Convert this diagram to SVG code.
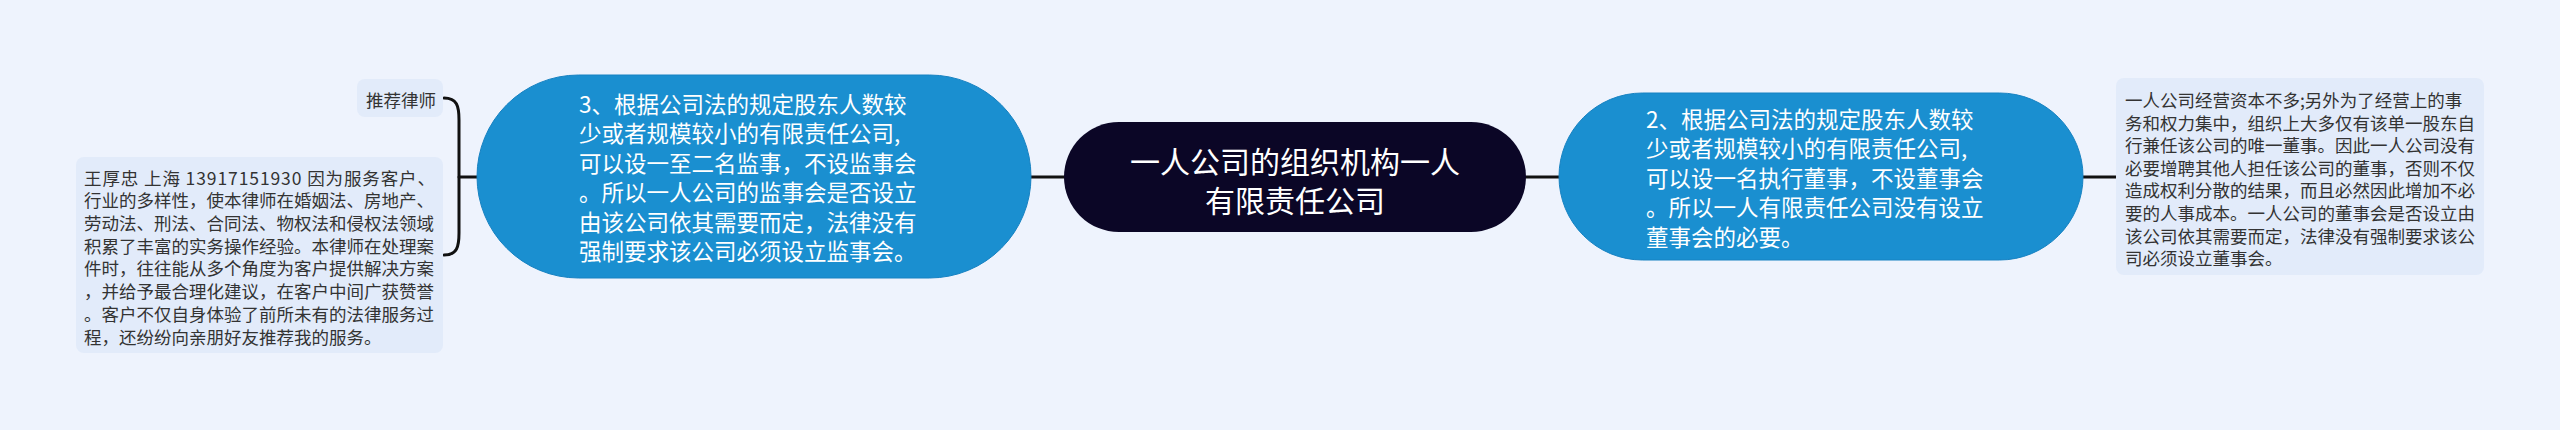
<svg xmlns="http://www.w3.org/2000/svg" width="2560" height="430" viewBox="0 0 2560 430">
<style>
.t{font-family:"Noto Sans CJK SC","Noto Sans",sans-serif;dominant-baseline:central}
.sm{font-size:17.5px;fill:#333333}
.md{font-size:22.5px;fill:#ffffff}
.lg{font-size:30px;fill:#ffffff}
.box{fill:#e2ebfa}
.blue{fill:#1a8fd0;stroke:#1782c2;stroke-width:1}
.conn{fill:none;stroke:#111111;stroke-width:3;stroke-linecap:round}
</style>
<rect x="0" y="0" width="2560" height="430" fill="#eef3fd"/>
<g id="connectors">
<path class="conn" d="M444,98 C457,98 459,106 459,120 L459,233 C459,247 457,255 444,255"/>
<path class="conn" d="M459,177 L477,177"/>
<path class="conn" d="M1031,177 L1064,177"/>
<path class="conn" d="M1526,177 L1559,177"/>
<path class="conn" d="M2083,177 L2116,177"/>
</g>
<g id="root">
<rect x="1064" y="122" width="462" height="110" rx="55" fill="#0b0626"/>
<text class="t lg" x="1295" y="160" text-anchor="middle">一人公司的组织机构一人</text>
<text class="t lg" x="1295" y="199" text-anchor="middle">有限责任公司</text>
</g>
<g id="node3">
<rect class="blue" x="477" y="75" width="554" height="203" rx="101.5"/>
<text class="t md" x="579" y="103">3、根据公司法的规定股东人数较</text>
<text class="t md" x="579" y="132.4">少或者规模较小的有限责任公司,</text>
<text class="t md" x="579" y="161.8">可以设一至二名监事，不设监事会</text>
<text class="t md" x="579" y="191.2">。所以一人公司的监事会是否设立</text>
<text class="t md" x="579" y="220.6">由该公司依其需要而定，法律没有</text>
<text class="t md" x="579" y="250">强制要求该公司必须设立监事会。</text>
</g>
<g id="node2">
<rect class="blue" x="1559" y="93" width="524" height="167" rx="83.5"/>
<text class="t md" x="1646" y="118">2、根据公司法的规定股东人数较</text>
<text class="t md" x="1646" y="147.4">少或者规模较小的有限责任公司,</text>
<text class="t md" x="1646" y="176.8">可以设一名执行董事，不设董事会</text>
<text class="t md" x="1646" y="206.2">。所以一人有限责任公司没有设立</text>
<text class="t md" x="1646" y="235.6">董事会的必要。</text>
</g>
<g id="recommend">
<rect class="box" x="357" y="79" width="86" height="38" rx="8"/>
<text class="t sm" x="366" y="99">推荐律师</text>
</g>
<g id="lawyer">
<rect class="box" x="76" y="157" width="367" height="196" rx="8"/>
<text class="t sm" x="84" y="177" textLength="351" lengthAdjust="spacing">王厚忠 上海 13917151930 因为服务客户、</text>
<text class="t sm" x="84" y="199.7">行业的多样性，使本律师在婚姻法、房地产、</text>
<text class="t sm" x="84" y="222.4">劳动法、刑法、合同法、物权法和侵权法领域</text>
<text class="t sm" x="84" y="245.1">积累了丰富的实务操作经验。本律师在处理案</text>
<text class="t sm" x="84" y="267.8">件时，往往能从多个角度为客户提供解决方案</text>
<text class="t sm" x="84" y="290.5">，并给予最合理化建议，在客户中间广获赞誉</text>
<text class="t sm" x="84" y="313.2">。客户不仅自身体验了前所未有的法律服务过</text>
<text class="t sm" x="84" y="336">程，还纷纷向亲朋好友推荐我的服务。</text>
</g>
<g id="detail">
<rect class="box" x="2116" y="78" width="368" height="197" rx="8"/>
<text class="t sm" x="2125" y="99.5">一人公司经营资本不多;另外为了经营上的事</text>
<text class="t sm" x="2125" y="122.1">务和权力集中，组织上大多仅有该单一股东自</text>
<text class="t sm" x="2125" y="144.7">行兼任该公司的唯一董事。因此一人公司没有</text>
<text class="t sm" x="2125" y="167.3">必要增聘其他人担任该公司的董事，否则不仅</text>
<text class="t sm" x="2125" y="189.9">造成权利分散的结果，而且必然因此增加不必</text>
<text class="t sm" x="2125" y="212.5">要的人事成本。一人公司的董事会是否设立由</text>
<text class="t sm" x="2125" y="235.1">该公司依其需要而定，法律没有强制要求该公</text>
<text class="t sm" x="2125" y="257.7">司必须设立董事会。</text>
</g>
</svg>
